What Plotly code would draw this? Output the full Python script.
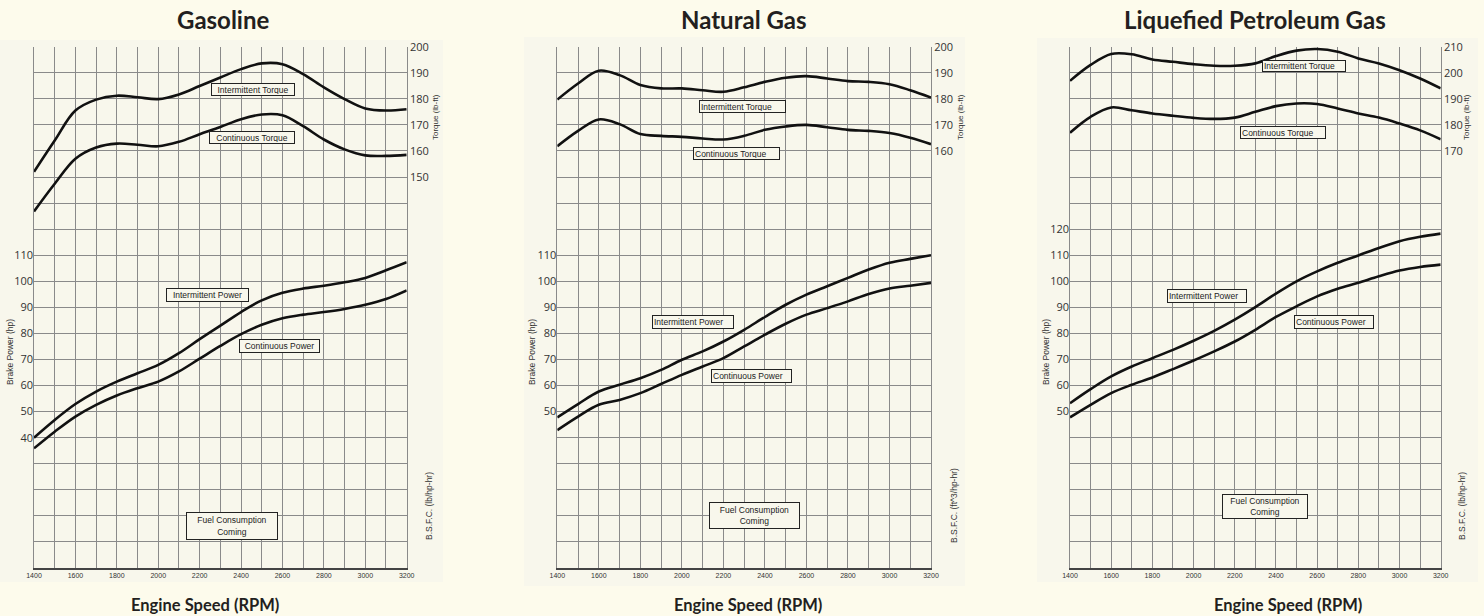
import plotly.graph_objects as go

# ---------------- data ----------------
rpm = [1400, 1500, 1600, 1700, 1800, 1900, 2000, 2100, 2200, 2300,
       2400, 2500, 2600, 2700, 2800, 2900, 3000, 3100, 3200]

gas_int_torque = [152, 164, 175.5, 179.7, 181.2, 180.6, 179.9, 181.7, 184.9, 188.2,
                  191.4, 193.6, 193.3, 189.5, 184.4, 179.9, 176.3, 175.5, 176]
gas_con_torque = [136.8, 147.4, 157, 161.3, 162.8, 162.4, 161.8, 163.5, 166.4, 169.2,
                  172.2, 174, 173.7, 169.5, 164.4, 160.6, 158.3, 158.1, 158.5]
gas_int_power = [40, 46.8, 52.9, 57.7, 61.5, 64.7, 67.9, 72.4, 77.8, 83,
                 88.2, 92.7, 95.6, 97.2, 98.3, 99.6, 101.3, 104.2, 107.3]
gas_con_power = [35.9, 42.3, 48.1, 52.6, 56.2, 59, 61.5, 65.4, 70.3, 75.2,
                 79.7, 83.3, 85.8, 87.2, 88.2, 89.4, 91, 93.2, 96.5]

ng_int_torque = [179.7, 185.9, 190.8, 189.1, 185.3, 184, 184, 183.3, 182.7, 184.4,
                 186.5, 188.1, 188.7, 187.8, 186.8, 186.5, 185.6, 183.3, 180.5]
ng_con_torque = [161.8, 167.7, 172.1, 170.3, 166.5, 165.8, 165.4, 164.8, 164.4, 165.8,
                 168.1, 169.4, 170, 169.1, 168.1, 167.7, 166.9, 165.1, 162.6]
ng_int_power = [47.8, 52.9, 57.7, 60.3, 62.8, 66, 69.9, 73.1, 76.9, 81.4,
                86.3, 91, 94.9, 98.1, 101.3, 104.5, 107.1, 108.6, 110]
ng_con_power = [42.9, 48.1, 52.6, 54.5, 57.1, 60.6, 64.1, 67.3, 70.5, 75,
                79.5, 83.7, 87.2, 89.7, 92.3, 95.1, 97.2, 98.3, 99.4]

lpg_int_torque = [196.9, 203, 207.2, 207.1, 205.1, 204.2, 203.3, 202.7, 202.7, 203.6,
                  206.4, 208.5, 209.1, 208.1, 205.5, 203.6, 201, 197.8, 194]
lpg_con_torque = [177, 183.1, 186.7, 185.6, 184.4, 183.5, 182.7, 182.3, 182.8, 185,
                  187.2, 188.2, 188, 186.3, 184.4, 182.8, 180.5, 177.9, 174.5]
lpg_int_power = [53.2, 58.6, 63.5, 67.3, 70.5, 73.7, 77.2, 81, 85.3, 90.1,
                 95.3, 100, 103.8, 107.1, 109.9, 112.8, 115.4, 117.1, 118.3]
lpg_con_power = [47.8, 52.6, 57.1, 60.3, 63.1, 66.3, 69.6, 73.1, 76.9, 81.4,
                 86.3, 90.4, 94.2, 97.1, 99.4, 101.9, 104.1, 105.5, 106.4]

titles = ["Gasoline", "Natural Gas", "Liquefied Petroleum Gas"]
bsfc_labels = ["B.S.F.C. (lb/hp-hr)", "B.S.F.C. (ft^3/hp-hr)", "B.S.F.C. (lb/hp-hr)"]
torque_ranges = [(0, 200), (0, 200), (10, 210)]
torque_labeled = [[150, 160, 170, 180, 190, 200],
                  [160, 170, 180, 190, 200],
                  [170, 180, 190, 200, 210]]
power_labeled = [[40, 50, 60, 70, 80, 90, 100, 110],
                 [50, 60, 70, 80, 90, 100, 110],
                 [50, 60, 70, 80, 90, 100, 110, 120]]
power_range = (-10, 190)
x_ticks = list(range(1400, 3201, 100))
x_labeled = list(range(1400, 3201, 200))

# ---------------- layout helpers ----------------
W, H = 1484, 616
PAGE = "#fdfbec"
PANEL = "#f8f7ec"
GRID = "#8a8a8a"
BLACK = "#111111"


def px(x):
    return x / W


def py(y):
    return 1 - y / H


plot_x = [(34, 406.7), (557.3, 931), (1070, 1440.7)]
plot_y = (46.7, 568)
panel_boxes = [(0, 40, 443, 582), (524, 37, 965, 586), (1037, 38, 1478, 582)]
title_x = [223, 744, 1255]
xlabel_x = [205, 748, 1288]
torque_title_x = [435, 960, 1466]
power_title_x = [10, 532, 1046]
bsfc_x = [429, 954, 1462]

fig = go.Figure()

series = [
    (gas_int_torque, gas_con_torque, gas_int_power, gas_con_power),
    (ng_int_torque, ng_con_torque, ng_int_power, ng_con_power),
    (lpg_int_torque, lpg_con_torque, lpg_int_power, lpg_con_power),
]

annotations = []
shapes = []
layout_axes = {}

TICKFONT = dict(family="Open Sans, sans-serif", size=11, color="#333333")

for i in range(3):
    x_id = i + 1
    yt_id = 2 * i + 1
    yp_id = 2 * i + 2
    xname = "xaxis" if x_id == 1 else f"xaxis{x_id}"
    ytname = "yaxis" if yt_id == 1 else f"yaxis{yt_id}"
    ypname = f"yaxis{yp_id}"
    xref = "x" if x_id == 1 else f"x{x_id}"
    ytref = "y" if yt_id == 1 else f"y{yt_id}"
    ypref = f"y{yp_id}"

    it, ct, ip, cp = series[i]
    for ys, yref in ((it, ytref), (ct, ytref), (ip, ypref), (cp, ypref)):
        fig.add_trace(go.Scatter(x=rpm, y=ys, xaxis=xref, yaxis=yref, mode="lines",
                                 line=dict(color=BLACK, width=2.6, shape="spline", smoothing=1.0),
                                 showlegend=False, hoverinfo="skip"))

    x0, x1 = plot_x[i]
    layout_axes[xname] = dict(
        domain=[px(x0), px(x1)], range=[1400, 3200], anchor=ytref,
        tickvals=x_ticks,
        ticktext=[str(v) if v in x_labeled else "" for v in x_ticks],
        tickfont=dict(family="Liberation Sans, Arial", size=7, color="#333333"),
        showgrid=True, gridcolor=GRID, gridwidth=1,
        showline=True, linecolor="#444444", linewidth=1.5, mirror=False,
        ticks="", zeroline=False, fixedrange=True, automargin=False,
    )
    lo, hi = torque_ranges[i]
    tv = list(range(lo, hi + 1, 10))
    layout_axes[ytname] = dict(
        domain=[py(plot_y[1]), py(plot_y[0])], range=[lo, hi], anchor=xref,
        side="right", tickvals=tv,
        ticktext=[str(v) if v in torque_labeled[i] else "" for v in tv],
        tickfont=TICKFONT, showgrid=True, gridcolor=GRID, gridwidth=1,
        showline=True, linecolor=GRID, linewidth=1, mirror=True,
        ticks="", zeroline=False, fixedrange=True, automargin=False,
    )
    layout_axes[ypname] = dict(
        domain=[py(plot_y[1]), py(plot_y[0])], range=list(power_range),
        anchor=xref, overlaying=ytref, side="left",
        tickvals=power_labeled[i], tickfont=TICKFONT,
        showgrid=False, showline=False, ticks="", zeroline=False, fixedrange=True,
        automargin=False,
    )

    # panel background
    bx0, by0, bx1, by1 = panel_boxes[i]
    shapes.append(dict(type="rect", xref="paper", yref="paper",
                       x0=px(bx0), x1=px(bx1), y0=py(by1), y1=py(by0),
                       fillcolor=PANEL, line=dict(width=0), layer="below"))

    # titles
    annotations.append(dict(text=f"<b>{titles[i]}</b>", x=px(title_x[i]), y=py(20),
                            xref="paper", yref="paper", showarrow=False,
                            xanchor="center", yanchor="middle",
                            font=dict(family="Lato, sans-serif", size=24, color="#231f20")))
    annotations.append(dict(text="<b>Engine Speed (RPM)</b>", x=px(xlabel_x[i]), y=py(605),
                            xref="paper", yref="paper", showarrow=False,
                            xanchor="center", yanchor="middle",
                            font=dict(family="Lato, sans-serif", size=16.5, color="#231f20")))
    annotations.append(dict(text="Torque (lb-ft)", x=px(torque_title_x[i]), y=py(117),
                            xref="paper", yref="paper", showarrow=False, textangle=-90,
                            xanchor="center", yanchor="middle",
                            font=dict(family="Liberation Sans, Arial", size=8, color="#333333")))
    annotations.append(dict(text="Brake Power (hp)", x=px(power_title_x[i]), y=py(352),
                            xref="paper", yref="paper", showarrow=False, textangle=-90,
                            xanchor="center", yanchor="middle",
                            font=dict(family="Liberation Sans, Arial", size=8.5, color="#333333")))
    annotations.append(dict(text=bsfc_labels[i], x=px(bsfc_x[i]), y=py(506),
                            xref="paper", yref="paper", showarrow=False, textangle=-90,
                            xanchor="center", yanchor="middle",
                            font=dict(family="Liberation Sans, Arial", size=8.5, color="#333333")))

# label boxes: (panel, text, x, y, axis kind, width, height, align)
boxes = [
    (0, "Intermittent Torque", 2458, 183.6, "t", 84, 12, "center"),
    (0, "Continuous Torque", 2452, 165.0, "t", 86, 12, "center"),
    (0, "Intermittent Power", 2237, 94.7, "p", 83, 12.5, "center"),
    (0, "Continuous Power", 2588, 75.0, "p", 81, 13, "center"),
    (0, "Fuel Consumption<br>Coming", 2355, 6.2, "p", 92, 27, "center"),
    (1, "Intermittent Torque", 2293, 176.9, "t", 87, 12, "left"),
    (1, "Continuous Torque", 2264, 159.2, "t", 87, 12, "left"),
    (1, "Intermittent Power", 2055, 84.5, "p", 82, 12.5, "left"),
    (1, "Continuous Power", 2336, 63.7, "p", 81, 13, "left"),
    (1, "Fuel Consumption<br>Coming", 2352, 10.0, "p", 91, 26, "center"),
    (2, "Intermittent Torque", 2537, 202.7, "t", 84, 11, "left"),
    (2, "Continuous Torque", 2432, 176.9, "t", 86, 12, "left"),
    (2, "Intermittent Power", 2064, 94.4, "p", 80, 12.5, "left"),
    (2, "Continuous Power", 2682, 84.4, "p", 80, 13, "left"),
    (2, "Fuel Consumption<br>Coming", 2347, 13.6, "p", 86, 24, "center"),
]
for pi, text, bx, by, kind, bw, bh, al in boxes:
    xref = "x" if pi == 0 else f"x{pi+1}"
    if kind == "t":
        yref = "y" if pi == 0 else f"y{2*pi+1}"
    else:
        yref = f"y{2*pi+2}"
    annotations.append(dict(text=text, x=bx, y=by, xref=xref, yref=yref, showarrow=False,
                            xanchor="center", yanchor="middle", align=al,
                            width=bw - 4, height=bh - 3, valign="middle",
                            bgcolor=PANEL, bordercolor="#222222", borderwidth=1, borderpad=1,
                            font=dict(family="Liberation Sans, Arial", size=8.5, color="#222222")))

fig.update_layout(
    template="none",
    width=W, height=H, autosize=False, margin=dict(l=0, r=0, t=0, b=0, pad=0),
    paper_bgcolor=PAGE, plot_bgcolor=PANEL,
    showlegend=False, annotations=annotations, shapes=shapes,
    **layout_axes,
)

fig.write_html(
    "out.html",
    config={"displayModeBar": False},
    post_script="document.body.style.margin='0';document.body.style.overflow='hidden';",
)
